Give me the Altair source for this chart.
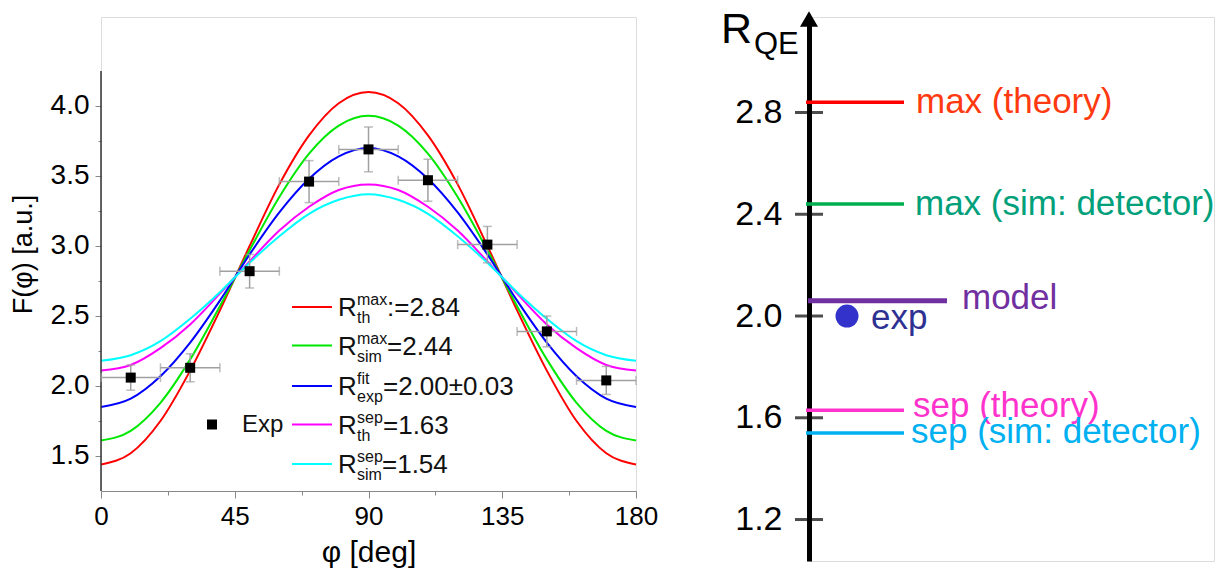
import altair as alt
import pandas as pd

FONT = "Liberation Sans, Arial, Helvetica, sans-serif"

# ---------------- left panel data ----------------
phi = [0, 10, 20, 30, 40, 50, 60, 70, 80, 90, 100, 110, 120, 130, 140, 150, 160, 170, 180]
F_th_max = [1.44, 1.52, 1.75, 2.11, 2.54, 3.00, 3.44, 3.79, 4.02, 4.10, 4.02, 3.79, 3.44, 3.00, 2.54, 2.11, 1.75, 1.52, 1.44]
F_sim_max = [1.61, 1.68, 1.88, 2.19, 2.57, 2.97, 3.35, 3.66, 3.86, 3.93, 3.86, 3.66, 3.35, 2.97, 2.57, 2.19, 1.88, 1.68, 1.61]
F_exp_fit = [1.85, 1.91, 2.07, 2.31, 2.61, 2.94, 3.24, 3.48, 3.64, 3.70, 3.64, 3.48, 3.24, 2.94, 2.61, 2.31, 2.07, 1.91, 1.85]
F_th_sep = [2.11, 2.15, 2.27, 2.44, 2.66, 2.89, 3.11, 3.28, 3.40, 3.44, 3.40, 3.28, 3.11, 2.89, 2.66, 2.44, 2.27, 2.15, 2.11]
F_sim_sep = [2.18, 2.22, 2.32, 2.48, 2.67, 2.88, 3.07, 3.23, 3.33, 3.37, 3.33, 3.23, 3.07, 2.88, 2.67, 2.48, 2.32, 2.22, 2.18]

curve_names = ["th_max", "sim_max", "exp_fit", "th_sep", "sim_sep"]
curve_values = [F_th_max, F_sim_max, F_exp_fit, F_th_sep, F_sim_sep]
curve_colors = ["#ff0000", "#00e800", "#0000ff", "#ff00ff", "#00ffff"]

# legend texts: (superscript, subscript, rest)
legend_sup = ["max", "max", "fit", "sep", "sep"]
legend_sub = ["th", "sim", "exp", "th", "sim"]
legend_rest = [":=2.84", "=2.44", "=2.00\u00b10.03", "=1.63", "=1.54"]

exp_phi = [10, 30, 50, 70, 90, 110, 130, 150, 170]
exp_F = [2.06, 2.13, 2.82, 3.46, 3.69, 3.47, 3.01, 2.39, 2.04]
exp_phi_err = [10, 10, 10, 10, 10, 10, 10, 10, 10]
exp_F_err = [0.09, 0.10, 0.12, 0.15, 0.16, 0.15, 0.13, 0.11, 0.10]

x_ticks = [0, 22.5, 45, 67.5, 90, 112.5, 135, 157.5, 180]
y_ticks = [1.5, 1.75, 2.0, 2.25, 2.5, 2.75, 3.0, 3.25, 3.5, 3.75, 4.0]

# ---------------- right panel data ----------------
rqe_names = ["max_th", "max_sim", "model", "exp", "sep_th", "sep_sim"]
rqe_values = [2.84, 2.44, 2.06, 2.00, 1.63, 1.54]
rqe_labels = ["max (theory)", "max (sim: detector)", "model", "exp", "sep (theory)", "sep (sim: detector)"]
rqe_line_colors = ["#ff0000", "#00b050", "#7030a0", "#3333cc", "#ff33cc", "#00b0f0"]
rqe_text_colors = ["#ff3a10", "#00a07a", "#7030a0", "#2e3192", "#ff33cc", "#00b0f0"]
rqe_ticks = [1.2, 1.6, 2.0, 2.4, 2.8]

# ---------------- tables ----------------
curves_df = pd.concat(
    [pd.DataFrame({"phi": phi, "F": vals, "series": name}) for name, vals in zip(curve_names, curve_values)],
    ignore_index=True,
)
exp_df = pd.DataFrame({"phi": exp_phi, "F": exp_F, "ephi": exp_phi_err, "eF": exp_F_err})
exp_df["phi_lo"] = exp_df["phi"] - exp_df["ephi"]
exp_df["phi_hi"] = exp_df["phi"] + exp_df["ephi"]
exp_df["F_lo"] = exp_df["F"] - exp_df["eF"]
exp_df["F_hi"] = exp_df["F"] + exp_df["eF"]

# ---------------- left panel ----------------
W_L, H_L = 535, 474
x_scale = alt.Scale(domain=[0, 180], nice=False, zero=False)
y_scale = alt.Scale(domain=[1.25, 4.6357], nice=False, zero=False)

x_axis = alt.Axis(
    values=x_ticks,
    labelExpr="datum.value % 45 === 0 ? datum.label : ''",
    labelOverlap=False, labelFlush=False,
    tickSize={"condition": {"test": "datum.value % 45 === 0", "value": 7}, "value": 4},
    labelFontSize=26, labelPadding=5,
    title="\u03c6 [deg]", titleFontSize=30, titlePadding=8, titleFontWeight="normal",
    grid=False,
)
y_axis = alt.Axis(
    values=y_ticks,
    format=".1f",
    labelExpr="datum.value % 0.5 === 0 ? datum.label : ''",
    labelOverlap=False, labelFlush=False,
    tickSize={"condition": {"test": "datum.value % 0.5 === 0", "value": 6}, "value": 3},
    labelFontSize=28, labelPadding=6,
    title="F(\u03c6) [a.u.]", titleFontSize=27, titlePadding=13, titleFontWeight="normal",
    domain=False, grid=False,
)

X = lambda f: alt.X(f, type="quantitative", scale=x_scale, axis=x_axis)
Y = lambda f: alt.Y(f, type="quantitative", scale=y_scale, axis=y_axis)

curves = alt.Chart(curves_df).mark_line(strokeWidth=2, interpolate="monotone").encode(
    x=X("phi"), y=Y("F"),
    color=alt.Color("series:N", scale=alt.Scale(domain=curve_names, range=curve_colors), legend=None),
    detail="series:N",
)

y_line = alt.Chart(pd.DataFrame({"a": [0]})).mark_rule(color="#333333", strokeWidth=1.5).encode(
    x=alt.value(0), y=alt.Y(datum=1.25, scale=y_scale, axis=y_axis), y2=alt.datum(4.25)
)

err_col = "#a0a0a0"
base_exp = alt.Chart(exp_df)
hbar = base_exp.mark_rule(color=err_col, strokeWidth=1.5).encode(x=X("phi_lo"), x2="phi_hi", y=Y("F"))
vbar = base_exp.mark_rule(color=err_col, strokeWidth=1.5).encode(x=X("phi"), y=Y("F_lo"), y2="F_hi")
cap_l = base_exp.mark_tick(color=err_col, orient="vertical", size=9, thickness=1.5).encode(x=X("phi_lo"), y=Y("F"))
cap_r = base_exp.mark_tick(color=err_col, orient="vertical", size=9, thickness=1.5).encode(x=X("phi_hi"), y=Y("F"))
cap_b = base_exp.mark_tick(color=err_col, orient="horizontal", size=9, thickness=1.5).encode(x=X("phi"), y=Y("F_lo"))
cap_t = base_exp.mark_tick(color=err_col, orient="horizontal", size=9, thickness=1.5).encode(x=X("phi"), y=Y("F_hi"))
pts = base_exp.mark_square(size=100, color="black", opacity=1).encode(x=X("phi"), y=Y("F"))

# custom legend (pixel layout inside the plot)
leg_rows_y = [290, 328.5, 369, 407.5, 447]
leg_rest_x = [286, 286, 282, 282, 281]
legend_layers = []
for i, name in enumerate(curve_names):
    one = pd.DataFrame({"R": ["R"], "sup": [legend_sup[i]], "sub": [legend_sub[i]], "rest": [legend_rest[i]]})
    yv = leg_rows_y[i]
    legend_layers.append(
        alt.Chart(one).mark_rule(color=curve_colors[i], strokeWidth=2).encode(
            x=alt.value(191), x2=alt.value(231), y=alt.value(yv))
    )
    legend_layers.append(
        alt.Chart(one).mark_text(align="left", baseline="middle", fontSize=26, font=FONT, color="#111").encode(
            x=alt.value(237), y=alt.value(yv + 1), text="R:N")
    )
    legend_layers.append(
        alt.Chart(one).mark_text(align="left", baseline="middle", fontSize=16, font=FONT, color="#111").encode(
            x=alt.value(256), y=alt.value(yv - 7), text="sup:N")
    )
    legend_layers.append(
        alt.Chart(one).mark_text(align="left", baseline="middle", fontSize=16, font=FONT, color="#111").encode(
            x=alt.value(256), y=alt.value(yv + 11), text="sub:N")
    )
    legend_layers.append(
        alt.Chart(one).mark_text(align="left", baseline="middle", fontSize=26, font=FONT, color="#111").encode(
            x=alt.value(leg_rest_x[i]), y=alt.value(yv + 1), text="rest:N")
    )
exp_leg = pd.DataFrame({"t": ["Exp"]})
legend_layers.append(
    alt.Chart(exp_leg).mark_square(size=100, color="black", opacity=1).encode(x=alt.value(111), y=alt.value(407.5))
)
legend_layers.append(
    alt.Chart(exp_leg).mark_text(align="left", baseline="middle", fontSize=24, font=FONT, color="#111").encode(
        x=alt.value(141), y=alt.value(408), text="t:N")
)

left = alt.layer(curves, y_line, hbar, vbar, cap_l, cap_r, cap_b, cap_t, pts, *legend_layers).properties(
    width=W_L, height=H_L
)

# ---------------- right panel ----------------
W_R, H_R = 405, 544
r_scale = alt.Scale(domain=[1.037, 3.1754], nice=False, zero=False)
r_axis = alt.Axis(
    values=rqe_ticks, format=".1f", ticks=False, tickSize=0,
    labelFontSize=34, labelPadding=27, labelColor="#000000",
    domain=True, domainWidth=5, domainColor="#000000",
    grid=False, title=None,
)
RY = lambda f: alt.Y(f, type="quantitative", scale=r_scale, axis=r_axis)

rqe_df = pd.DataFrame({"name": rqe_names, "v": rqe_values, "label": rqe_labels})
tick_df = pd.DataFrame({"v": rqe_ticks})
line_color = alt.Color("name:N", scale=alt.Scale(domain=rqe_names, range=rqe_line_colors), legend=None)

r_ticks = alt.Chart(tick_df).mark_tick(orient="horizontal", size=28, thickness=3, color="black").encode(
    x=alt.value(0), y=RY("v")
)
std_lines = alt.Chart(rqe_df).transform_filter(
    alt.FieldOneOfPredicate(field="name", oneOf=["max_th", "max_sim", "sep_th", "sep_sim"])
).mark_rule(strokeWidth=3.5).encode(x=alt.value(-3), x2=alt.value(95), y=RY("v"), color=line_color)
model_line = alt.Chart(rqe_df).transform_filter(alt.datum.name == "model").mark_rule(strokeWidth=5).encode(
    x=alt.value(-1), x2=alt.value(138), y=RY("v"), color=line_color
)
exp_dot = alt.Chart(rqe_df).transform_filter(alt.datum.name == "exp").mark_circle(size=530, opacity=1).encode(
    x=alt.value(38), y=RY("v"), color=line_color
)

label_x = [107, 106, 153, 62, 104, 102]
label_dy = [0, 0, -3, 2, -4, -1]
r_labels = []
for i, name in enumerate(rqe_names):
    r_labels.append(
        alt.Chart(rqe_df).transform_filter(alt.datum.name == name).mark_text(
            align="left", baseline="middle", fontSize=35, font=FONT, color=rqe_text_colors[i], dy=label_dy[i]
        ).encode(x=alt.value(label_x[i]), y=RY("v"), text="label:N")
    )

arrow = alt.Chart(pd.DataFrame({"a": [0]})).mark_point(
    shape="triangle-up", filled=True, size=324, color="black", opacity=1
).encode(x=alt.value(0), y=alt.value(2))

title_df = pd.DataFrame({"R": ["R"], "sub": ["QE"]})
title_R = alt.Chart(title_df).mark_text(align="left", baseline="middle", fontSize=43, font=FONT, color="#000").encode(
    x=alt.value(-88), y=alt.value(13), text="R:N"
)
title_sub = alt.Chart(title_df).mark_text(align="left", baseline="middle", fontSize=31, font=FONT, color="#000").encode(
    x=alt.value(-55), y=alt.value(28), text="sub:N"
)

right = alt.layer(r_ticks, std_lines, model_line, exp_dot, *r_labels, arrow, title_R, title_sub).properties(
    width=W_R, height=H_R
)

chart = alt.hconcat(left, right, spacing=61, padding=0).resolve_scale(color="independent").configure_view(
    stroke=None
).configure_axis(
    labelFont=FONT, titleFont=FONT, labelColor="#111111", titleColor="#111111",
    domainColor="#333333", tickColor="#333333", domainWidth=1.5, tickWidth=1.5,
    titleFontWeight="normal",
).configure(font=FONT)

chart.save("out.html", embed_options={"renderer": "svg", "actions": False})
